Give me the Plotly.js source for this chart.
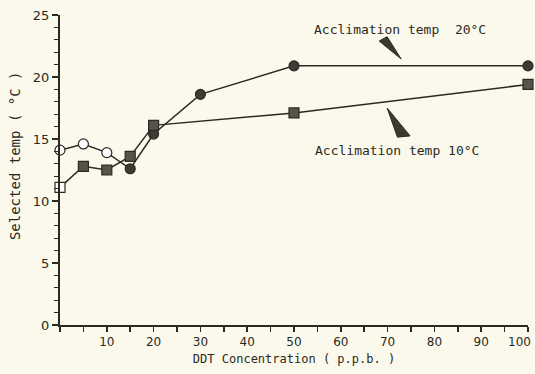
<!DOCTYPE html>
<html>
<head>
<meta charset="utf-8">
<script src="https://cdn.plot.ly/plotly-3.0.1.min.js"></script>
<style>html,body{margin:0;padding:0;background:#fbf9ec;}#chart{width:535px;height:374px;}</style>
</head>
<body>
<div id="chart"></div>
<script>
// DDT concentration (p.p.b.)
var conc20 = [0, 5, 10, 15, 20, 30, 50, 100];
var temp20 = [14.1, 14.6, 13.9, 12.6, 15.4, 18.6, 20.9, 20.9];
var open20 = [true, true, true, false, false, false, false, false];

var conc10 = [0, 5, 10, 15, 20, 50, 100];
var temp10 = [11.1, 12.8, 12.5, 13.6, 16.1, 17.1, 19.4];
var open10 = [true, false, false, false, false, false, false];

var xTicks = [10, 20, 30, 40, 50, 60, 70, 80, 90, 100];
var xTickText = ['10', '20', '30', '40', '50', '60', '70', '80', '90', '100'];
var yTicks = [0, 5, 10, 15, 20, 25];

var ink = '#2b2a22';
var fillC = '#3d3c34';
var fillS = '#55544a';
var paper = '#fbf9ec';
var font = 'DejaVu Sans, sans-serif';
var mono = 'DejaVu Sans Mono, monospace';

var traces = [
  {
    x: conc20, y: temp20, mode: 'lines+markers', type: 'scatter',
    line: {color: ink, width: 1.5},
    marker: {symbol: 'circle', size: 10,
      color: open20.map(function(o){return o ? '#ffffff' : fillC;}),
      line: {color: ink, width: 1.2}},
    hoverinfo: 'skip', cliponaxis: false
  },
  {
    x: conc10, y: temp10, mode: 'lines+markers', type: 'scatter',
    line: {color: ink, width: 1.5},
    marker: {symbol: 'square', size: 10,
      color: open10.map(function(o){return o ? '#ffffff' : fillS;}),
      line: {color: ink, width: 1.2}},
    hoverinfo: 'skip', cliponaxis: false
  }
];

// the last label sits at the figure edge: it is drawn right-aligned as an annotation
var lastIdx = xTickText.length - 1;
var xLabels = xTickText.map(function(t, i){ return i === lastIdx ? '' : t; });

var layout = {
  width: 535, height: 374,
  margin: {l: 60, r: 7, t: 15, b: 49},
  paper_bgcolor: paper, plot_bgcolor: paper,
  showlegend: false,
  font: {family: font, color: ink, size: 12},
  xaxis: {
    range: [0, 100], showgrid: false, zeroline: false,
    showline: true, linecolor: ink, linewidth: 2,
    ticks: 'outside', ticklen: 5, tickwidth: 1.5, tickcolor: ink,
    tickmode: 'array', tickvals: xTicks, ticktext: xLabels,
    minor: {tickmode: 'linear', tick0: 0, dtick: 5, ticks: 'outside', ticklen: 5, tickwidth: 1.5, tickcolor: ink, showgrid: false},
    tickfont: {family: font, size: 12, color: ink},
    title: {text: 'DDT Concentration ( p.p.b. )', font: {family: mono, size: 12, color: ink}, standoff: 6}
  },
  yaxis: {
    range: [0, 25], showgrid: false, zeroline: false,
    showline: true, linecolor: ink, linewidth: 2,
    ticks: 'outside', ticklen: 6, tickwidth: 1.5, tickcolor: ink,
    tickmode: 'array', tickvals: yTicks, ticktext: yTicks.map(String),
    minor: {tickmode: 'linear', tick0: 0, dtick: 1, ticks: 'outside', ticklen: 4, tickwidth: 1.2, tickcolor: ink, showgrid: false},
    tickfont: {family: font, size: 13, color: ink}
  },
  annotations: [
    {xref: 'x', yref: 'paper', x: xTicks[lastIdx], y: 0, xanchor: 'right', yanchor: 'top',
     xshift: 5, yshift: -8, text: xTickText[lastIdx], showarrow: false,
     font: {family: font, size: 12, color: ink}},
    {xref: 'paper', yref: 'paper', x: -0.096, y: 0.545, xanchor: 'center', yanchor: 'middle',
     text: 'Selected temp ( \u00b0C )',
     textangle: -90, showarrow: false, font: {family: mono, size: 14, color: ink}},
    {xref: 'x', yref: 'y', x: 72.6, y: 23.8, text: 'Acclimation temp  20\u00b0C',
     showarrow: false, font: {family: mono, size: 13, color: ink}},
    {xref: 'x', yref: 'y', x: 72.0, y: 14.1, text: 'Acclimation temp 10\u00b0C',
     showarrow: false, font: {family: mono, size: 13, color: ink}}
  ],
  shapes: [
    {type: 'path', xref: 'x', yref: 'y', path: 'M 68.2 22.9 L 69.9 23.25 L 72.9 21.45 Z',
     fillcolor: '#3a3930', line: {color: ink, width: 1}},
    {type: 'path', xref: 'x', yref: 'y', path: 'M 69.9 17.5 L 72.1 15.15 L 74.8 15.25 Z',
     fillcolor: '#3a3930', line: {color: ink, width: 1}}
  ]
};

Plotly.newPlot('chart', traces, layout, {staticPlot: true, displayModeBar: false});
</script>
</body>
</html>
